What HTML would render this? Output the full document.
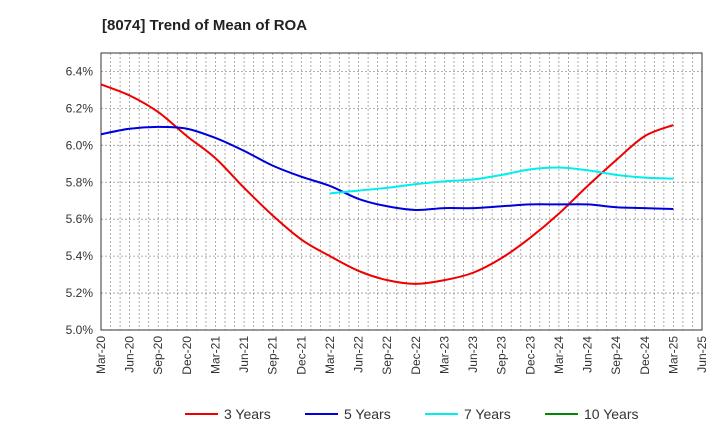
<!DOCTYPE html>
<html><head><meta charset="utf-8"><style>
body{margin:0;background:#fff;font-family:"Liberation Sans",sans-serif}
</style></head><body>
<svg id="c" width="720" height="440" xmlns="http://www.w3.org/2000/svg">
<text x="102" y="30" font-size="15" font-weight="bold" fill="#222">[8074]  Trend of Mean of ROA</text>
<g id="grid"></g><g id="axes"></g><g id="series"></g><g id="legend"></g>
</svg>
<script>
const xLabels=["Mar-20","Jun-20","Sep-20","Dec-20","Mar-21","Jun-21","Sep-21","Dec-21","Mar-22","Jun-22","Sep-22","Dec-22","Mar-23","Jun-23","Sep-23","Dec-23","Mar-24","Jun-24","Sep-24","Dec-24","Mar-25","Jun-25"];
const yTicks=[5.0,5.2,5.4,5.6,5.8,6.0,6.2,6.4];
const s3=[6.33,6.27,6.18,6.05,5.93,5.77,5.62,5.49,5.40,5.32,5.27,5.25,5.27,5.31,5.39,5.50,5.63,5.78,5.92,6.05,6.11];
const s5=[6.06,6.09,6.10,6.09,6.04,5.97,5.89,5.83,5.78,5.71,5.67,5.65,5.66,5.66,5.67,5.68,5.68,5.68,5.665,5.66,5.655];
const s7=[5.74,5.755,5.77,5.79,5.805,5.815,5.84,5.87,5.88,5.865,5.84,5.825,5.82];
const s7start=8;
const s10=[];
const L=101,R=702,T=53,B=330,ymin=5.0,ymax=6.5;
const xs=i=>L+i*(R-L)/21, ys=v=>B-(v-ymin)/(ymax-ymin)*(B-T);
const NS="http://www.w3.org/2000/svg";
function mk(p,t,a){const e=document.createElementNS(NS,t);for(const k in a)e.setAttribute(k,a[k]);p.appendChild(e);return e;}
const g=document.getElementById('grid'),ax=document.getElementById('axes'),se=document.getElementById('series'),lg=document.getElementById('legend');
for(let m=1;m<63;m++){const x=L+m*(R-L)/63;const l=mk(g,'line',{x1:x,x2:x,y1:T,y2:B,stroke:'#999','stroke-dasharray':'2,2','stroke-width':0.8});

}
yTicks.concat([6.5]).forEach(v=>{const l=mk(g,'line',{x1:L,x2:R,y1:ys(v),y2:ys(v),stroke:'#999','stroke-dasharray':'2,2','stroke-width':0.8});

});
const fr=mk(ax,'rect',{x:L,y:T,width:R-L,height:B-T,fill:'none',stroke:'#333'});


yTicks.forEach(v=>{const t=mk(ax,'text',{x:L-8,y:ys(v)+4,'text-anchor':'end','font-size':12,fill:'#333'});t.textContent=v.toFixed(1)+'%';

});
xLabels.forEach((s,i)=>{const x=xs(i);const t=mk(ax,'text',{x:x+4,y:B+6,'text-anchor':'end','font-size':12,fill:'#333',transform:`rotate(-90 ${x+4} ${B+6})`});t.textContent=s;

});
function line(arr,st,col,name){if(!arr.length)return;
const P=arr.map((v,i)=>[xs(i+st),ys(v)]);
let d='M'+P[0][0]+','+P[0][1];
for(let i=0;i<P.length-1;i++){const p0=P[Math.max(i-1,0)],p1=P[i],p2=P[i+1],p3=P[Math.min(i+2,P.length-1)];
const c1x=p1[0]+(p2[0]-p0[0])/6,c1y=p1[1]+(p2[1]-p0[1])/6,c2x=p2[0]-(p3[0]-p1[0])/6,c2y=p2[1]-(p3[1]-p1[1])/6;
d+=` C${c1x},${c1y} ${c2x},${c2y} ${p2[0]},${p2[1]}`;}
const p=mk(se,'path',{d:d,fill:'none',stroke:col,'stroke-width':2,'stroke-linejoin':'round'});

}
line(s3,0,'#e00','series-3-years');line(s5,0,'#00d','series-5-years');line(s7,s7start,'#0ee','series-7-years');line(s10,0,'#080','series-10-years');
[["3 Years","#e00",185],["5 Years","#00d",305],["7 Years","#0ee",425],["10 Years","#080",545]].forEach(([n,c,x])=>{const gg=mk(lg,'g',{});


mk(gg,'line',{x1:x,x2:x+33,y1:414,y2:414,stroke:c,'stroke-width':2});const t=mk(gg,'text',{x:x+39,y:419,'font-size':14,fill:'#333'});t.textContent=n;});
</script>
</body></html>
